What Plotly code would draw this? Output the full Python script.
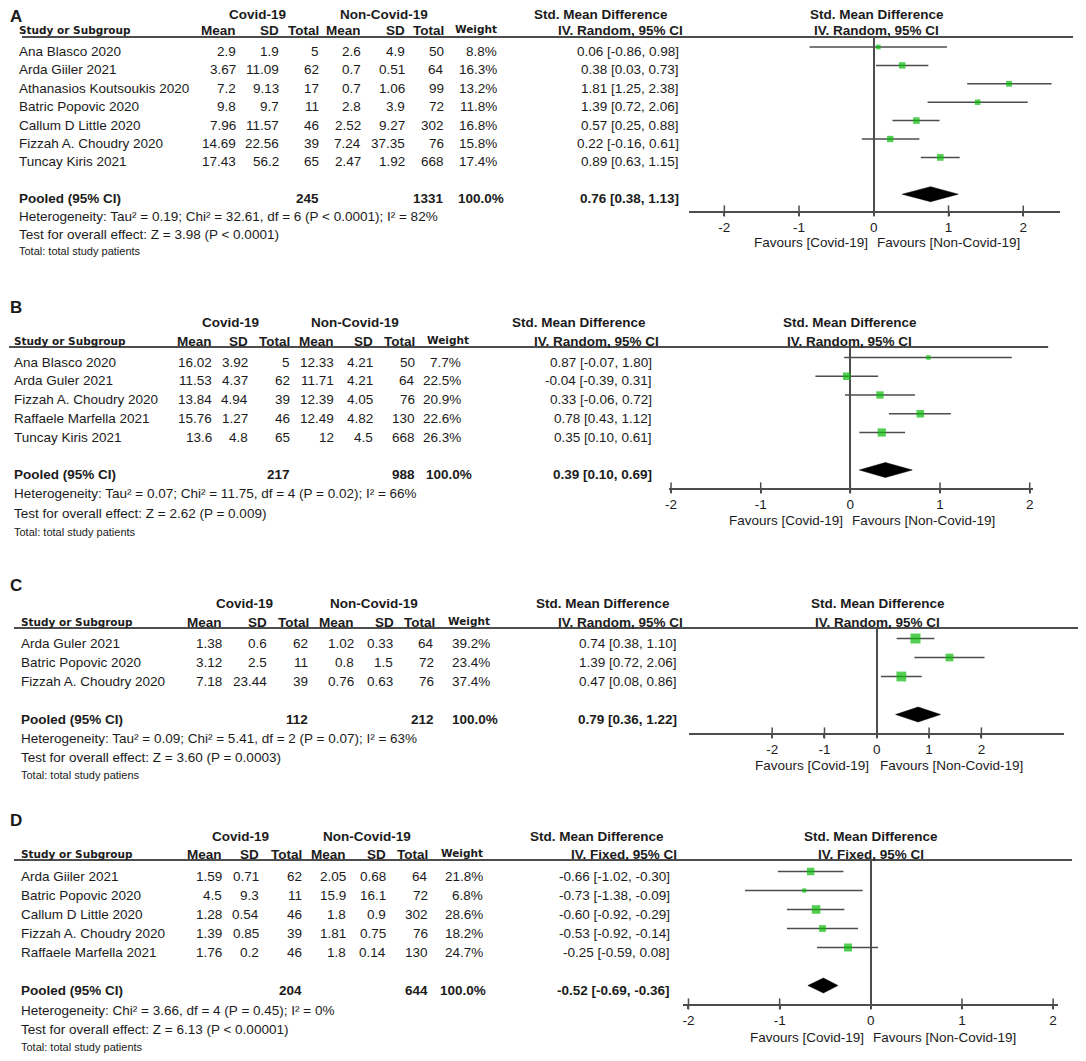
import math
import plotly.graph_objects as go

OFF = 8  # page body margin compensation
W, H = 1086 - OFF, 1061 - OFF
FONT = "Liberation Sans, Arial, sans-serif"
FONT2 = "DejaVu Sans, Verdana, sans-serif"
TXT = "#1b1b1b"
LINE = "#4d4d4d"
GREEN = "#0abb0a"
TICKS = [-2, -1, 0, 1, 2]

# ---------------- Data ----------------
A_studies = ["Ana Blasco 2020", "Arda Giiler 2021", "Athanasios Koutsoukis 2020", "Batric Popovic 2020",
             "Callum D Little 2020", "Fizzah A. Choudry 2020", "Tuncay Kiris 2021"]
A_cov_mean = [2.9, 3.67, 7.2, 9.8, 7.96, 14.69, 17.43]
A_cov_sd = [1.9, 11.09, 9.13, 9.7, 11.57, 22.56, 56.2]
A_cov_total = [5, 62, 17, 11, 46, 39, 65]
A_non_mean = [2.6, 0.7, 0.7, 2.8, 2.52, 7.24, 2.47]
A_non_sd = [4.9, 0.51, 1.06, 3.9, 9.27, 37.35, 1.92]
A_non_total = [50, 64, 99, 72, 302, 76, 668]
A_weight = [8.8, 16.3, 13.2, 11.8, 16.8, 15.8, 17.4]
A_smd = [0.06, 0.38, 1.81, 1.39, 0.57, 0.22, 0.89]
A_lo = [-0.86, 0.03, 1.25, 0.72, 0.25, -0.16, 0.63]
A_hi = [0.98, 0.73, 2.38, 2.06, 0.88, 0.61, 1.15]
A_pooled = [0.76, 0.38, 1.13]
A_totals = [245, 1331]
A_notes = ["Heterogeneity: Tau² = 0.19; Chi² = 32.61, df = 6 (P < 0.0001); I² = 82%",
           "Test for overall effect: Z = 3.98 (P < 0.0001)",
           "Total: total study patients"]
A_model = "IV. Random, 95% CI"

B_studies = ["Ana Blasco 2020", "Arda Guler 2021", "Fizzah A. Choudry 2020", "Raffaele Marfella 2021",
             "Tuncay Kiris 2021"]
B_cov_mean = [16.02, 11.53, 13.84, 15.76, 13.6]
B_cov_sd = [3.92, 4.37, 4.94, 1.27, 4.8]
B_cov_total = [5, 62, 39, 46, 65]
B_non_mean = [12.33, 11.71, 12.39, 12.49, 12]
B_non_sd = [4.21, 4.21, 4.05, 4.82, 4.5]
B_non_total = [50, 64, 76, 130, 668]
B_weight = [7.7, 22.5, 20.9, 22.6, 26.3]
B_smd = [0.87, -0.04, 0.33, 0.78, 0.35]
B_lo = [-0.07, -0.39, -0.06, 0.43, 0.10]
B_hi = [1.80, 0.31, 0.72, 1.12, 0.61]
B_pooled = [0.39, 0.10, 0.69]
B_totals = [217, 988]
B_notes = ["Heterogeneity: Tau² = 0.07; Chi² = 11.75, df = 4 (P = 0.02); I² = 66%",
           "Test for overall effect: Z = 2.62 (P = 0.009)",
           "Total: total study patients"]
B_model = "IV. Random, 95% CI"

C_studies = ["Arda Guler 2021", "Batric Popovic 2020", "Fizzah A. Choudry 2020"]
C_cov_mean = [1.38, 3.12, 7.18]
C_cov_sd = [0.6, 2.5, 23.44]
C_cov_total = [62, 11, 39]
C_non_mean = [1.02, 0.8, 0.76]
C_non_sd = [0.33, 1.5, 0.63]
C_non_total = [64, 72, 76]
C_weight = [39.2, 23.4, 37.4]
C_smd = [0.74, 1.39, 0.47]
C_lo = [0.38, 0.72, 0.08]
C_hi = [1.10, 2.06, 0.86]
C_pooled = [0.79, 0.36, 1.22]
C_totals = [112, 212]
C_notes = ["Heterogeneity: Tau² = 0.09; Chi² = 5.41, df = 2 (P = 0.07); I² = 63%",
           "Test for overall effect: Z = 3.60 (P = 0.0003)",
           "Total: total study patiens"]
C_model = "IV. Random, 95% CI"

D_studies = ["Arda Giiler 2021", "Batric Popovic 2020", "Callum D Little 2020", "Fizzah A. Choudry 2020",
             "Raffaele Marfella 2021"]
D_cov_mean = [1.59, 4.5, 1.28, 1.39, 1.76]
D_cov_sd = [0.71, 9.3, 0.54, 0.85, 0.2]
D_cov_total = [62, 11, 46, 39, 46]
D_non_mean = [2.05, 15.9, 1.8, 1.81, 1.8]
D_non_sd = [0.68, 16.1, 0.9, 0.75, 0.14]
D_non_total = [64, 72, 302, 76, 130]
D_weight = [21.8, 6.8, 28.6, 18.2, 24.7]
D_smd = [-0.66, -0.73, -0.60, -0.53, -0.25]
D_lo = [-1.02, -1.38, -0.92, -0.92, -0.59]
D_hi = [-0.30, -0.09, -0.29, -0.14, 0.08]
D_pooled = [-0.52, -0.69, -0.36]
D_totals = [204, 644]
D_notes = ["Heterogeneity: Chi² = 3.66, df = 4 (P = 0.45); I² = 0%",
           "Test for overall effect: Z = 6.13 (P < 0.00001)",
           "Total: total study patients"]
D_model = "IV. Fixed, 95% CI"

DATA = {
    "A": dict(studies=A_studies, cols=[A_cov_mean, A_cov_sd, A_cov_total, A_non_mean, A_non_sd, A_non_total],
              weight=A_weight, smd=A_smd, lo=A_lo, hi=A_hi, pooled=A_pooled, totals=A_totals, notes=A_notes, model=A_model),
    "B": dict(studies=B_studies, cols=[B_cov_mean, B_cov_sd, B_cov_total, B_non_mean, B_non_sd, B_non_total],
              weight=B_weight, smd=B_smd, lo=B_lo, hi=B_hi, pooled=B_pooled, totals=B_totals, notes=B_notes, model=B_model),
    "C": dict(studies=C_studies, cols=[C_cov_mean, C_cov_sd, C_cov_total, C_non_mean, C_non_sd, C_non_total],
              weight=C_weight, smd=C_smd, lo=C_lo, hi=C_hi, pooled=C_pooled, totals=C_totals, notes=C_notes, model=C_model),
    "D": dict(studies=D_studies, cols=[D_cov_mean, D_cov_sd, D_cov_total, D_non_mean, D_non_sd, D_non_total],
              weight=D_weight, smd=D_smd, lo=D_lo, hi=D_hi, pooled=D_pooled, totals=D_totals, notes=D_notes, model=D_model),
}

# ---------------- Layout (pixel positions in the reference) ----------------
LAY = {
    "A": dict(letter=(10, 17), h1=14, h2=30, line_y=37, line_x=(18, 1073), row0=47, dy=18.4,
              name_x=19, vals=[233, 276, 316, 358, 402, 442, 495, 677], hdrs=[233, 276, 316, 358, 402, 442, 495, 682],
              pw=502, cov_c=254, non_c=381, smd_c=599, right_c=876, ax_x=(688, 1060), zero_x=873, unit=75,
              axis_y=211, fav_y=242, fav_l=867, fav_r=880, notes_y=[216, 234, 251]),
    "B": dict(letter=(10, 308), h1=322, h2=341, line_y=347, line_x=(5, 1048), row0=357.5, dy=18.75,
              name_x=14, vals=[209, 245, 287, 331, 370, 413, 459, 650], hdrs=[209, 245, 287, 331, 370, 413, 467, 657],
              pw=470, cov_c=227, non_c=352, smd_c=577, right_c=849, ax_x=(667, 1033), zero_x=849.5, unit=90,
              axis_y=488, fav_y=520, fav_l=842, fav_r=855, notes_y=[493, 513, 532]),
    "C": dict(letter=(10, 585), h1=603, h2=622, line_y=628, line_x=(10, 1078), row0=638.5, dy=19,
              name_x=21, vals=[219, 264, 305, 351, 390, 432, 488, 675], hdrs=[219, 264, 306, 351, 391, 433, 488, 681],
              pw=496, cov_c=241, non_c=371, smd_c=601, right_c=877, ax_x=(688, 1064), zero_x=876, unit=52.5,
              axis_y=733, fav_y=765, fav_l=868, fav_r=883, notes_y=[738, 757, 775]),
    "D": dict(letter=(10, 820), h1=836, h2=854, line_y=860, line_x=(10, 1072), row0=871.5, dy=19,
              name_x=21, vals=[219, 256, 299, 343, 383, 426, 481, 668], hdrs=[219, 256, 299, 343, 383, 426, 481, 675],
              pw=484, cov_c=237, non_c=364, smd_c=595, right_c=870, ax_x=(682, 1058), zero_x=870, unit=91.5,
              axis_y=1004, fav_y=1037, fav_l=863, fav_r=876, notes_y=[1010, 1029, 1047]),
}

TEXT_SHIFT = -4.5  # text sits slightly below marks
LEFT_SHIFT = -4
BODY = 13.5
HDR = 13.5


def px(x):
    return (x - OFF) / W


def py(y):
    return 1 - (y - OFF) / H


annotations = []
shapes = []
fig = go.Figure()
layout = {}


def ann(x, y, text, xanchor="left", size=BODY, family=FONT, yref="paper", yshift=0):
    annotations.append(dict(x=x, y=y, xref="paper", yref=yref, text=text, xanchor=xanchor, yanchor="middle",
                            showarrow=False, yshift=yshift, xshift=LEFT_SHIFT if xanchor == "left" else 0,
                            borderpad=0, borderwidth=0,
                            font=dict(size=size, family=family, color=TXT)))


for k, key in enumerate(["A", "B", "C", "D"], start=1):
    d = DATA[key]
    L = LAY[key]
    sfx = "" if k == 1 else str(k)
    n = len(d["studies"])
    pidx = n + 1
    bottom = (L["axis_y"] - L["row0"]) / L["dy"]
    top = (L["line_y"] - L["row0"]) / L["dy"]
    rng = [(L["ax_x"][0] - L["zero_x"]) / L["unit"], (L["ax_x"][1] - L["zero_x"]) / L["unit"]]

    layout[f"xaxis{sfx}"] = dict(domain=[px(L["ax_x"][0]), px(L["ax_x"][1])], anchor=f"y{sfx}", range=rng,
                                 tickvals=TICKS, ticktext=[str(t) for t in TICKS], showline=True, linecolor=LINE,
                                 linewidth=1.5, ticks="outside", ticklen=3, tickwidth=1.5, tickcolor=LINE,
                                 zeroline=True, zerolinecolor=LINE, zerolinewidth=1.5, showgrid=False,
                                 tickfont=dict(size=BODY, family=FONT, color=TXT), fixedrange=True)
    layout[f"yaxis{sfx}"] = dict(domain=[py(L["axis_y"]), py(L["line_y"])], anchor=f"x{sfx}",
                                 range=[bottom, top], visible=False, showgrid=False, zeroline=False, fixedrange=True)
    xa, ya = f"x{sfx}", f"y{sfx}"
    yref = f"y{sfx}"

    # CI lines
    cx, cy = [], []
    for i in range(n):
        cx += [d["lo"][i], d["hi"][i], None]
        cy += [i, i, None]
    fig.add_trace(go.Scatter(x=cx, y=cy, mode="lines", line=dict(color=LINE, width=1.5), xaxis=xa, yaxis=ya,
                             showlegend=False, hoverinfo="skip", cliponaxis=False))
    # weight squares
    fig.add_trace(go.Scatter(x=d["smd"], y=list(range(n)), mode="markers",
                             marker=dict(symbol="square", color=GREEN, size=[1.6 * math.sqrt(w) for w in d["weight"]],
                                         line=dict(width=0)),
                             xaxis=xa, yaxis=ya, showlegend=False, hoverinfo="skip", cliponaxis=False))
    # pooled diamond
    est, plo, phi = d["pooled"]
    h = 7.5 / L["dy"]
    fig.add_trace(go.Scatter(x=[plo, est, phi, est, plo], y=[pidx, pidx - h, pidx, pidx + h, pidx], mode="lines",
                             fill="toself", fillcolor="black", line=dict(color="black", width=0.5),
                             xaxis=xa, yaxis=ya, showlegend=False, hoverinfo="skip"))
    # cross ticks on the axis
    fig.add_trace(go.Scatter(x=TICKS, y=[bottom] * len(TICKS), mode="markers",
                             marker=dict(symbol="line-ns", size=8, line=dict(color=LINE, width=1.5)),
                             xaxis=xa, yaxis=ya, showlegend=False, hoverinfo="skip", cliponaxis=False))

    # header line
    shapes.append(dict(type="line", xref="paper", yref="paper", x0=px(L["line_x"][0]), x1=px(L["line_x"][1]),
                       y0=py(L["line_y"]), y1=py(L["line_y"]), line=dict(color=LINE, width=2)))

    # letter
    ann(px(L["letter"][0]), py(L["letter"][1]), f"<b>{key}</b>", size=17)
    # header row 1
    ann(px(L["cov_c"]), py(L["h1"]), "<b>Covid-19</b>", "center", HDR)
    ann(px(L["non_c"]), py(L["h1"]), "<b>Non-Covid-19</b>", "center", HDR)
    ann(px(L["smd_c"]), py(L["h1"]), "<b>Std. Mean Difference</b>", "center", HDR)
    ann(px(L["right_c"]), py(L["h1"]), "<b>Std. Mean Difference</b>", "center", HDR)
    # header row 2
    ann(px(L["name_x"]), py(L["h2"]), "<b>Study or Subgroup</b>", "left", 10.5, FONT2)
    for j, lab in enumerate(["Mean", "SD", "Total", "Mean", "SD", "Total"]):
        ann(px(L["hdrs"][j]), py(L["h2"]), f"<b>{lab}</b>", "right", HDR)
    ann(px(L["hdrs"][6]), py(L["h2"]) + 1 / H, "<b>Weight</b>", "right", 10.5, FONT2)
    ann(px(L["hdrs"][7]), py(L["h2"]), f"<b>{d['model']}</b>", "right", HDR)
    ann(px(L["right_c"]), py(L["h2"]), f"<b>{d['model']}</b>", "center", HDR)

    # study rows
    for i in range(n):
        ann(px(L["name_x"]), i, d["studies"][i], "left", BODY, yref=yref, yshift=TEXT_SHIFT)
        for j in range(6):
            ann(px(L["vals"][j]), i, str(d["cols"][j][i]), "right", BODY, yref=yref, yshift=TEXT_SHIFT)
        ann(px(L["vals"][6]), i, f"{d['weight'][i]:.1f}%", "right", BODY, yref=yref, yshift=TEXT_SHIFT)
        ann(px(L["vals"][7]), i, f"{d['smd'][i]:.2f} [{d['lo'][i]:.2f}, {d['hi'][i]:.2f}]", "right", BODY,
            yref=yref, yshift=TEXT_SHIFT)

    # pooled row
    ann(px(L["name_x"]), pidx, "<b>Pooled (95% CI)</b>", "left", BODY, yref=yref, yshift=TEXT_SHIFT)
    ann(px(L["vals"][2]), pidx, f"<b>{d['totals'][0]}</b>", "right", BODY, yref=yref, yshift=TEXT_SHIFT)
    ann(px(L["vals"][5]), pidx, f"<b>{d['totals'][1]}</b>", "right", BODY, yref=yref, yshift=TEXT_SHIFT)
    ann(px(L["pw"]), pidx, "<b>100.0%</b>", "right", BODY, yref=yref, yshift=TEXT_SHIFT)
    ann(px(L["vals"][7]), pidx, f"<b>{est:.2f} [{plo:.2f}, {phi:.2f}]</b>", "right", BODY, yref=yref,
        yshift=TEXT_SHIFT)

    # notes
    for j, note in enumerate(d["notes"]):
        ann(px(L["name_x"]), py(L["notes_y"][j]), note, "left", BODY if j < 2 else 11)

    # favours labels
    ann(px(L["fav_l"]), py(L["fav_y"]), "Favours [Covid-19]", "right", BODY)
    ann(px(L["fav_r"]), py(L["fav_y"]), "Favours [Non-Covid-19]", "left", BODY)

fig.update_layout(
    width=W, height=H, margin=dict(l=0, r=0, t=0, b=0),
    paper_bgcolor="white", plot_bgcolor="rgba(0,0,0,0)",
    annotations=annotations, shapes=shapes, showlegend=False,
    font=dict(family=FONT, size=BODY, color=TXT),
    **layout,
)

fig.write_html("out.html")
